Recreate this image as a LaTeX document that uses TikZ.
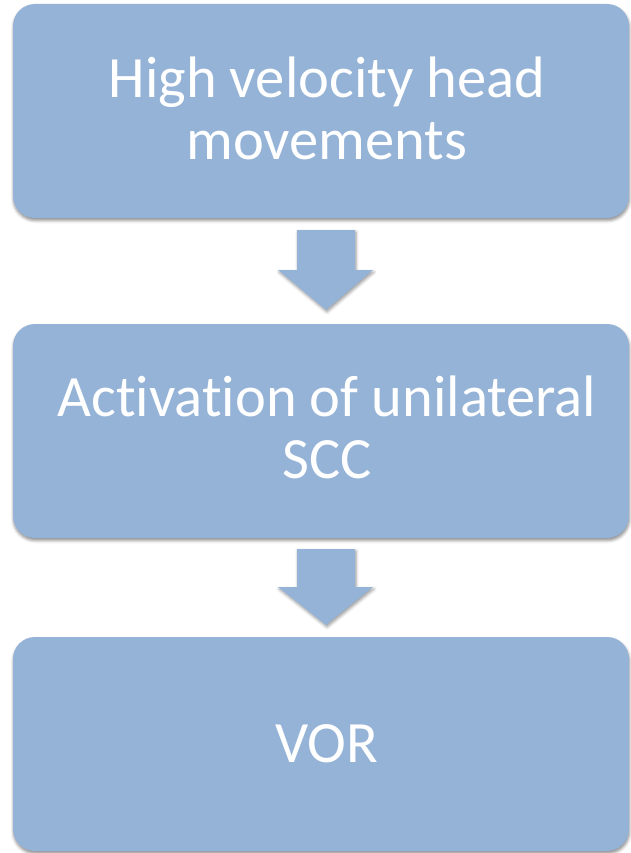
\documentclass[tikz,border=0pt]{standalone}
\usepackage{fontspec}
\setmainfont[RawFeature=-liga]{Carlito}
\usetikzlibrary{shadows.blur}
\definecolor{boxblue}{HTML}{95B3D7}
\tikzset{
  stagebox/.style={fill=boxblue, draw=none, rounded corners=22pt,
    blur shadow={shadow xshift=0.5pt, shadow yshift=-2.5pt, shadow blur radius=3pt, shadow opacity=45}},
  stagetext/.style={text=white, align=center, font=\fontsize{58.5}{62}\selectfont, inner sep=0pt},
  downarrow/.style={fill=boxblue, draw=none,
    blur shadow={shadow xshift=1pt, shadow yshift=-2pt, shadow blur radius=3pt, shadow opacity=40}}
}
\begin{document}
\begin{tikzpicture}[x=1pt, y=-1pt]
  \useasboundingbox (0,0) rectangle (630,853);
  % three stage boxes
  \path[stagebox] (13,4) rectangle (629,218);
  \path[stagebox] (13,324) rectangle (629,538);
  \path[stagebox] (13,637) rectangle (629,851);
  \coordinate (b1) at (327,108);
  \coordinate (b2) at (327,427);
  \coordinate (b3) at (327,744);
  \node[stagetext] (t1) at (b1) {High velocity head\\movements};
  \node[stagetext] (t2) at (b2) {Activation of unilateral\\SCC};
  \node[stagetext] (t3) at (b3) {VOR};
  % block arrows between the stages
  \path[downarrow] (297,230) -- (355,230) -- (355,270) -- (373,270) -- (326,310)
    -- (278,270) -- (297,270) -- cycle;
  \path[downarrow] (297,549) -- (355,549) -- (355,587) -- (373,587) -- (326,625)
    -- (278,587) -- (297,587) -- cycle;
\end{tikzpicture}
\end{document}
